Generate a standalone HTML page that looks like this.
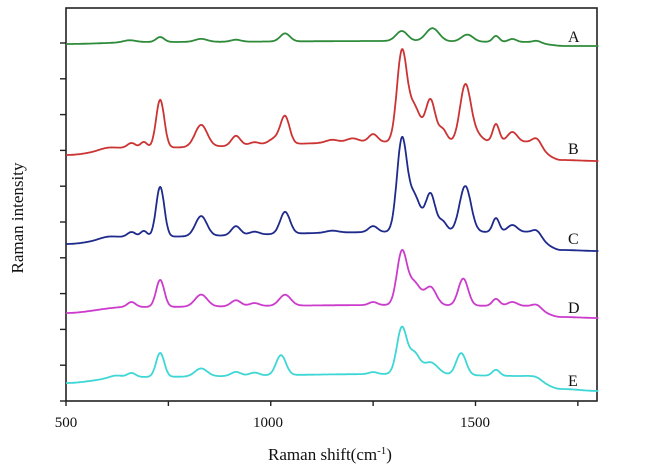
<!DOCTYPE html>
<html><head><meta charset="utf-8"><style>
body{margin:0;background:#fff;}
svg{display:block;font-family:"Liberation Serif",serif;}
</style></head><body>
<svg id="s" width="660" height="474" viewBox="0 0 660 474">
<rect x="66" y="8" width="531" height="393" fill="none" stroke="#222" stroke-width="1.6"/>
<g stroke="#222" stroke-width="1.4" id="ticks"></g>
<g font-size="15" fill="#111" text-anchor="middle">
<text x="66" y="427">500</text><text x="268" y="427">1000</text><text x="475" y="427">1500</text>
</g>
<text x="330" y="460" font-size="17" text-anchor="middle" fill="#111">Raman shift(cm<tspan dy="-6" font-size="11">-1</tspan><tspan dy="6">)</tspan></text>
<text transform="translate(23,218) rotate(-90)" font-size="17" text-anchor="middle" fill="#111">Raman intensity</text>
<g font-size="16" fill="#111">
<text x="568" y="42">A</text><text x="568" y="154">B</text><text x="568" y="244">C</text><text x="568" y="313">D</text><text x="568" y="386">E</text>
</g>
<g id="lines" fill="none" stroke-width="1.8" stroke-linejoin="round"></g>
</svg>
<script>
var X=function(v){return 66+(v-500)*0.4095;};
var t=document.getElementById('ticks'),h='';
[500,750,1000,1250,1500,1750].forEach(function(v){h+='<line x1="'+X(v)+'" y1="401" x2="'+X(v)+'" y2="406"/>';});
for(var i=0;i<11;i++){var y=43+i*35.8;h+='<line x1="60" y1="'+y+'" x2="66" y2="'+y+'"/>';}
t.innerHTML=h;
function base(pts,v){for(var i=0;i<pts.length-1;i++){if(v<=pts[i+1][0]){var a=pts[i],b=pts[i+1];var f=(v-a[0])/(b[0]-a[0]);f=f*f*(3-2*f);return a[1]+(b[1]-a[1])*f;}}return pts[pts.length-1][1];}
var S=[
{c:'#2e8b3a',b:[[500,44],[700,42],[1300,41],[1620,42],[1720,46],[1800,46]],p:[[655,2,15],[730,5,10],[830,3,15],[915,2,12],[1035,8,12],[1320,10,14],[1395,13,16],[1480,7,14],[1550,6,8],[1590,3,10],[1650,2,10]]},
{c:'#cc3333',b:[[500,155],[650,148],[1300,142],[1620,142],[1710,160],[1800,161]],p:[[600,2,20],[660,5,10],[690,6,8],[730,48,10],[830,22,15],[915,10,11],[960,3,12],[1035,27,11],[1010,6,15],[1150,3,15],[1200,4,15],[1250,8,11],[1320,88,12],[1350,35,15],[1390,42,12],[1420,12,10],[1475,56,13],[1500,8,15],[1550,18,8],[1590,10,12],[1650,8,11]]},
{c:'#1e2a8c',b:[[500,244],[650,237],[1300,232],[1620,232],[1710,250],[1800,251]],p:[[600,2,20],[660,5,10],[690,6,8],[730,50,10],[830,20,14],[915,9,11],[960,3,12],[1035,22,12],[1150,2,15],[1250,6,11],[1320,90,12],[1350,36,15],[1390,38,12],[1420,10,10],[1475,46,14],[1550,14,8],[1590,7,12],[1650,6,11]]},
{c:'#cc3ccc',b:[[500,313],[650,307],[1300,305],[1620,306],[1710,317],[1800,318]],p:[[660,5,10],[730,27,10],[830,12,15],[915,6,12],[960,3,12],[1035,11,14],[1250,3,10],[1320,52,12],[1350,22,15],[1390,18,14],[1470,27,12],[1550,7,9],[1590,4,12],[1650,4,11]]},
{c:'#3fd6d6',b:[[500,383],[650,377],[1300,374],[1620,376],[1710,389],[1800,391]],p:[[620,2,15],[660,4,10],[730,24,10],[830,8,15],[915,4,12],[960,3,12],[1025,20,12],[1250,2,10],[1320,46,12],[1350,20,13],[1390,12,18],[1465,22,12],[1550,6,9],[1650,2,12]]}
];
var L='';
S.forEach(function(s){var d='';for(var v=500;v<=1800;v+=2){var y=base(s.b,v);s.p.forEach(function(p){var q=(v-p[0])/p[2];y-=p[1]*Math.exp(-0.5*q*q);});d+=(v==500?'M':'L')+X(v).toFixed(1)+' '+y.toFixed(1);}L+='<path d="'+d+'" stroke="'+s.c+'"/>';});
document.getElementById('lines').innerHTML=L;
</script>
</body></html>
